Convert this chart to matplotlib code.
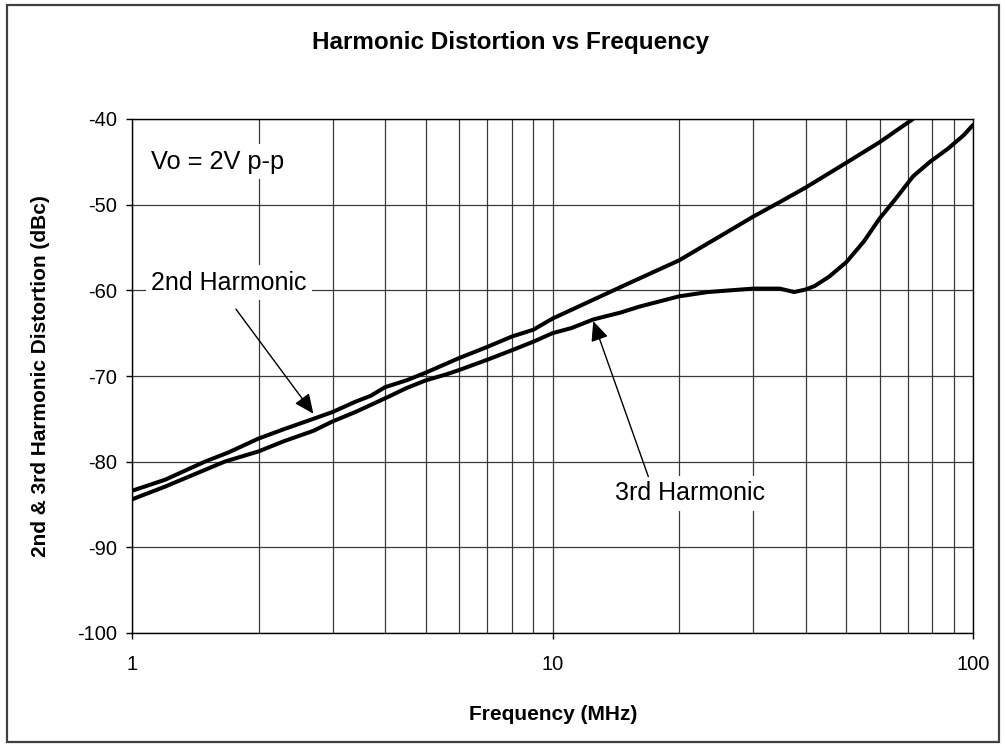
import matplotlib
matplotlib.use("Agg")
import matplotlib.pyplot as plt
from matplotlib.patches import Rectangle

# ---- data ----
freq_2nd = [1, 1.2, 1.49, 1.7, 2, 2.3, 2.7, 3, 3.4, 3.7, 4, 4.5, 5, 6, 7, 8, 9, 10,
            12, 15, 20, 25, 30, 35, 40, 50, 60, 72]
h2_dbc = [-83.4, -82.1, -80.0, -78.9, -77.3, -76.2, -75.0, -74.2, -73.0, -72.3, -71.3,
          -70.5, -69.6, -67.9, -66.6, -65.4, -64.6, -63.3,
          -61.5, -59.3, -56.5, -53.7, -51.4, -49.6, -48.0, -45.1, -42.7, -40.0]

freq_3rd = [1, 1.2, 1.66, 2, 2.3, 2.7, 3, 3.4, 4, 4.5, 5, 5.6, 6, 7, 8, 9, 10, 11.1,
            12.5, 14.5, 16.1, 20, 23.4, 30, 34.7, 37.6, 40, 42, 45.5, 50, 55, 60,
            65.5, 72, 79, 87, 95, 100]
h3_dbc = [-84.4, -82.9, -80.0, -78.8, -77.6, -76.4, -75.3, -74.2, -72.6, -71.4, -70.5,
          -69.8, -69.3, -68.1, -67.0, -66.0, -65.0, -64.4,
          -63.4, -62.6, -61.9, -60.7, -60.2, -59.8, -59.8, -60.2, -59.9, -59.5,
          -58.4, -56.7, -54.3, -51.6, -49.3, -46.7, -45.0, -43.5, -41.9, -40.7]

x_ticks = [1, 10, 100]
x_tick_labels = ["1", "10", "100"]
y_ticks = [-100, -90, -80, -70, -60, -50, -40]

title = "Harmonic Distortion vs Frequency"
x_label = "Frequency (MHz)"
y_label = "2nd & 3rd Harmonic Distortion (dBc)"

plt.rcParams['font.family'] = ['Liberation Sans', 'DejaVu Sans']

W, H = 1006, 748
fig = plt.figure(figsize=(W / 100, H / 100), dpi=100)
fig.patch.set_facecolor('white')

# outer border of the chart
fig.patches.append(Rectangle((7 / W, 1 - 742 / H), (999 - 7) / W, (742 - 5) / H,
                             transform=fig.transFigure, fill=False,
                             edgecolor='#404040', linewidth=1.6))

ax = fig.add_axes([132 / W, 1 - 633 / H, (973 - 132) / W, (633 - 119) / H])
ax.set_xscale('log')
ax.set_xlim(1, 100)
ax.set_ylim(-100, -40)

ax.grid(True, which='both', axis='both', color='#3a3a3a', linewidth=0.9)
ax.set_axisbelow(True)

ax.plot(freq_2nd, h2_dbc, color='black', linewidth=2.9, solid_capstyle='round',
        solid_joinstyle='round', zorder=3)
ax.plot(freq_3rd, h3_dbc, color='black', linewidth=2.9, solid_capstyle='round',
        solid_joinstyle='round', zorder=3)

ax.set_xticks(x_ticks)
ax.set_xticklabels(x_tick_labels)
ax.set_yticks(y_ticks)
ax.set_yticklabels([str(v) for v in y_ticks])
ax.tick_params(axis='both', which='major', direction='out', length=4, width=1,
               labelsize=14.5, color='black')
ax.tick_params(axis='x', which='major', pad=12)
ax.tick_params(axis='y', which='major', pad=7)
ax.tick_params(axis='x', which='minor', length=0)

for s in ax.spines.values():
    s.set_color('black')
    s.set_linewidth(1.0)

fig.text(511 / W, 1 - 43 / H, title, fontsize=17.5, fontweight='bold',
         ha='center', va='center')
ax.set_xlabel(x_label, fontsize=15, fontweight='bold')
ax.xaxis.set_label_coords((553 - 132) / 841, -(705 - 633) / 514)
ax.set_ylabel(y_label, fontsize=15, fontweight='bold')
ax.yaxis.set_label_coords(-(132 - 50) / 841, (633 - 376) / 514)

box = dict(facecolor='white', edgecolor='none', pad=4)
ax.text(1.11, -45.0, "Vo = 2V p-p", fontsize=18.3, ha='left', va='center', bbox=box, zorder=4)
ax.text(1.11, -59.1, "2nd Harmonic", fontsize=18, ha='left', va='center', bbox=box, zorder=4)
ax.text(14.08, -83.66, "3rd Harmonic", fontsize=18, ha='left', va='center', bbox=box, zorder=4)

arrow = dict(arrowstyle='-|>,head_length=0.6,head_width=0.27', color='black',
             lw=1.0, mutation_scale=20, shrinkA=0, shrinkB=0)
ax.annotate("", xy=(2.70, -74.4), xytext=(1.767, -62.2), arrowprops=arrow, zorder=5)
ax.annotate("", xy=(12.5, -63.6), xytext=(16.9, -81.75), arrowprops=arrow, zorder=5)

fig.savefig('out.png', dpi=100, facecolor='white')
